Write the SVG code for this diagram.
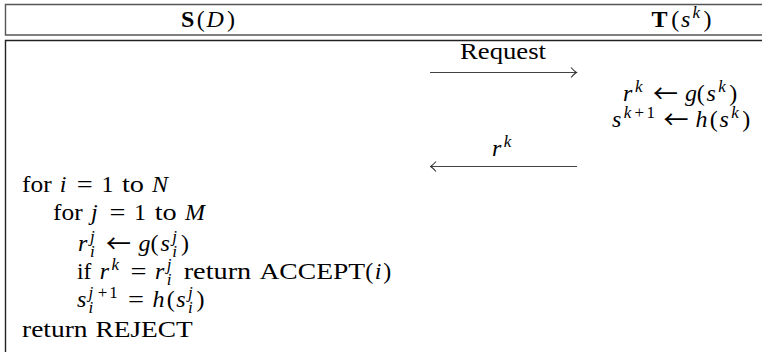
<svg xmlns="http://www.w3.org/2000/svg" width="762" height="352" viewBox="0 0 762 352">
<defs>
<style>
text{font-family:"Liberation Serif","DejaVu Serif",serif;font-size:24px;fill:#000}
.i{font-style:italic}
.s{font-size:17px}
.b{font-weight:bold}
.ar{font-family:"Noto Sans CJK JP","Noto Sans CJK SC","DejaVu Sans",sans-serif;font-size:25px;font-weight:400}
.hdr{fill:none;stroke:#555;stroke-width:1.4}
.box{fill:none;stroke:#222;stroke-width:1.4}
.conn{stroke:#444;stroke-width:1.2;fill:none}
</style>
<marker id="ah" viewBox="-7 -6 8 12" refX="0" refY="0" markerWidth="8" markerHeight="12" markerUnits="userSpaceOnUse" orient="auto-start-reverse">
<path d="M-5.5,-5 Q-2,-1 0,0 Q-2,1 -5.5,5" fill="none" stroke="#333" stroke-width="1.1"/>
</marker>
</defs>
<g id="header">
<path class="hdr" d="M763,4.5 H5.5 V35 H763"/>
<text id="S-title"><tspan class="b" x="181" y="27">S</tspan><tspan x="196.8" y="27">(</tspan><tspan class="i" x="206.4" y="27">D</tspan><tspan x="226.9" y="27">)</tspan></text>
<text id="T-title"><tspan class="b" x="651.5" y="27">T</tspan><tspan x="671.3" y="27">(</tspan><tspan class="i" x="680.9" y="27">s</tspan><tspan class="i s" x="692.5" y="18">k</tspan><tspan x="703.4" y="27">)</tspan></text>
</g>
<g id="body">
<path class="box" d="M763,40.5 H5.5 V353"/>
</g>
<g id="connectors">
<line id="request-arrow" class="conn" x1="430" y1="72.5" x2="576.5" y2="72.5" marker-end="url(#ah)"/>
<line id="response-arrow" class="conn" x1="577" y1="166.5" x2="430.5" y2="166.5" marker-end="url(#ah)"/>
</g>
<g id="labels">
<text x="460" y="59" textLength="86" lengthAdjust="spacingAndGlyphs">Request</text>
<text><tspan class="i" x="492" y="156">r</tspan><tspan class="i s" x="503.8" y="147">k</tspan></text>
</g>
<g id="server">
<text><tspan class="i" x="623" y="101">r</tspan><tspan class="i s" x="635" y="92">k</tspan><tspan class="ar" x="653" y="103">←</tspan><tspan class="i" x="684.9" y="101">g</tspan><tspan x="696.8" y="101">(</tspan><tspan class="i" x="706.5" y="101">s</tspan><tspan class="i s" x="718.3" y="92">k</tspan><tspan x="729.3" y="101">)</tspan></text>
<text><tspan class="i" x="612" y="127">s</tspan><tspan class="i s" x="623.7" y="118">k</tspan><tspan class="s" x="634.5" y="118">+</tspan><tspan class="s" x="646.4" y="118">1</tspan><tspan class="ar" x="663.5" y="129">←</tspan><tspan class="i" x="695.4" y="127">h</tspan><tspan x="709.8" y="127">(</tspan><tspan class="i" x="719.5" y="127">s</tspan><tspan class="i s" x="731.3" y="118">k</tspan><tspan x="742.3" y="127">)</tspan></text>
</g>
<g id="client">
<text><tspan x="22" y="192" textLength="29.6" lengthAdjust="spacingAndGlyphs">for</tspan><tspan class="i" x="59.8" y="192">i</tspan><tspan x="76.7" y="192" textLength="16" lengthAdjust="spacingAndGlyphs">=</tspan><tspan x="101.4" y="192">1</tspan><tspan x="121.9" y="192" textLength="22" lengthAdjust="spacingAndGlyphs">to</tspan><tspan class="i" x="152.1" y="192">N</tspan></text>
<text><tspan x="53" y="220" textLength="29.6" lengthAdjust="spacingAndGlyphs">for</tspan><tspan class="i" x="90.9" y="220">j</tspan><tspan x="109.5" y="220" textLength="16" lengthAdjust="spacingAndGlyphs">=</tspan><tspan x="134.1" y="220">1</tspan><tspan x="154.7" y="220" textLength="22" lengthAdjust="spacingAndGlyphs">to</tspan><tspan class="i" x="185" y="220">M</tspan></text>
<text><tspan class="i" x="78" y="251">r</tspan><tspan class="i s" x="90" y="242">j</tspan><tspan class="i s" x="90" y="257">i</tspan><tspan class="ar" x="106" y="253">←</tspan><tspan class="i" x="138.6" y="251">g</tspan><tspan x="150.6" y="251">(</tspan><tspan class="i" x="160.5" y="251">s</tspan><tspan class="i s" x="172.3" y="242">j</tspan><tspan class="i s" x="172.3" y="257">i</tspan><tspan x="181.1" y="251">)</tspan></text>
<text><tspan x="77" y="279" textLength="14.4" lengthAdjust="spacingAndGlyphs">if</tspan><tspan class="i" x="99.7" y="279">r</tspan><tspan class="i s" x="111.5" y="270">k</tspan><tspan x="130.4" y="279" textLength="16" lengthAdjust="spacingAndGlyphs">=</tspan><tspan class="i" x="155" y="279">r</tspan><tspan class="i s" x="166.8" y="270">j</tspan><tspan class="i s" x="166.8" y="285">i</tspan><tspan x="183.7" y="279" textLength="67.5" lengthAdjust="spacingAndGlyphs">return</tspan><tspan x="259.4" y="279" textLength="105.8" lengthAdjust="spacingAndGlyphs">ACCEPT</tspan><tspan x="365.2" y="279">(</tspan><tspan class="i" x="374.8" y="279">i</tspan><tspan x="383.3" y="279">)</tspan></text>
<text><tspan class="i" x="77" y="307">s</tspan><tspan class="i s" x="88.6" y="298">j</tspan><tspan class="s" x="97.7" y="298">+</tspan><tspan class="s" x="109.2" y="298">1</tspan><tspan class="i s" x="88.6" y="313">i</tspan><tspan x="127.9" y="307" textLength="16" lengthAdjust="spacingAndGlyphs">=</tspan><tspan class="i" x="152.5" y="307">h</tspan><tspan x="166.7" y="307">(</tspan><tspan class="i" x="176.3" y="307">s</tspan><tspan class="i s" x="187.9" y="298">j</tspan><tspan class="i s" x="187.9" y="313">i</tspan><tspan x="196.5" y="307">)</tspan></text>
<text><tspan x="22" y="337" textLength="65.5" lengthAdjust="spacingAndGlyphs">return</tspan><tspan x="95.5" y="337" textLength="97.3" lengthAdjust="spacingAndGlyphs">REJECT</tspan></text>
</g>
</svg>
